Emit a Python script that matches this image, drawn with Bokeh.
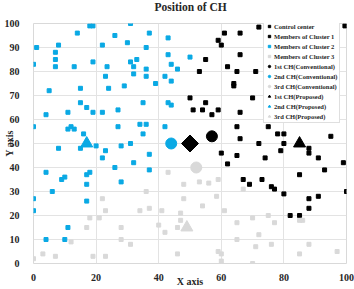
import math

from bokeh.embed import file_html
from bokeh.models import FixedTicker, Title
from bokeh.plotting import figure
from bokeh.resources import INLINE

SERIF = "Liberation Serif"
BLUE = "#0aa9e4"
GREY = "#d9d9d9"
BLACK = "#000000"
TEXT = "#262626"

# Members of each cluster
cluster1_x = [61, 66, 72, 59, 60, 55, 66, 62, 53, 65, 71, 64, 64, 50, 55, 70, 51, 54, 59, 57,
              66, 65, 75, 66, 78, 80, 72, 80, 95, 99.5, 90, 60, 65, 62, 74, 79, 88, 88, 91, 99,
              93, 85, 67, 69, 73, 76, 77, 80, 100, 91, 88, 88, 82, 85]
cluster1_y = [96, 96, 98.5, 93, 91, 85, 87, 82, 80, 80, 80, 75, 74, 69, 67, 69, 64, 64, 64, 62,
              63, 57, 57, 52, 54, 54, 50, 50, 53, 99, 100, 46, 45, 41.5, 44, 47, 48, 46, 44, 42,
              39, 37, 35, 33, 35, 32, 31, 29, 30, 28, 27, 23, 20, 20]

cluster2_x = [0, 1, 8, 7, 7, 7, 5, 4, 0, 14, 18, 19, 13, 15, 15, 17, 11, 19, 22, 11,
              12, 13, 16, 15, 8, 20, 23, 19, 22, 23.5, 23, 24, 26, 29, 27, 27, 28, 31, 30, 31,
              31, 32, 33, 32, 36, 36, 36, 37, 35, 34, 36, 35, 39, 42, 43, 43, 44, 44, 46, 43,
              44, 42, 50, 22, 26, 32, 37, 37, 28, 4, 9, 10, 6, 0, 0, 17, 18, 17, 17, 11,
              4, 10]
cluster2_y = [83, 90, 91, 88, 85, 82, 72, 62, 57, 96, 99, 99, 82, 73, 67, 65, 63, 63, 63, 56,
              57, 56, 54, 48, 48, 49, 47, 84, 91, 82, 78, 73, 95, 74, 64, 57, 49, 50, 92, 100,
              84, 82, 85, 79, 81, 78, 90, 96, 67, 58, 58, 54, 75, 78, 94, 87, 83, 76, 81, 67,
              66, 57, 86, 44, 40, 42, 45.5, 39, 34, 38, 35, 36, 30, 27, 22, 37, 38, 33, 26, 15,
              10, 10]

cluster3_x = [0, 3, 7, 12, 19, 23, 18, 17, 21, 22, 23, 28, 28, 31, 34, 36, 37, 41, 40, 42,
              43, 46, 46, 47, 47, 48, 53, 56, 59, 67, 48, 58.5, 54, 61, 70, 65, 75, 77, 85, 86,
              72, 65, 71, 76, 88, 97, 85, 59, 60, 60, 70]
cluster3_y = [2, 4, 3, 9, 3, 3, 19, 15, 19, 27, 22, 15, 10, 8, 22, 30, 23, 22, 16, 13,
              38, 15, 4, 21, 18, 33, 34, 33.5, 35, 31, 27, 28, 24, 22, 19, 17, 20, 17, 18, 18,
              12, 10, 7, 8, 8, 5, 4, 5, 4, 1, 0]

# Control center and cluster heads
center_x, center_y = [50], [50]
ch_conv_x = [57, 44, 52]
ch_conv_y = [53, 50, 40]
ch_prop_x = [85, 17, 49]
ch_prop_y = [50, 50, 15]
ch_colors = [BLACK, BLUE, GREY]
ch_ranks = ["1st", "2nd", "3rd"]

x_ticks = [0, 20, 40, 60, 80, 100]
y_ticks = [0, 10, 20, 30, 40, 50, 60, 70, 80, 90, 100]

p = figure(width=354, height=289, x_range=(0, 100), y_range=(0, 100),
           output_backend="svg", toolbar_location=None,
           min_border_left=32, min_border_right=8, min_border_top=22, min_border_bottom=25,
           background_fill_color="white", border_fill_color="white")
p.outline_line_color = "#d9d9d9"

# Title sits in the top band; a thin empty band keeps it clear of the frame
p.title = None
p.add_layout(Title(text=" ", text_font_size="1px", standoff=6), "above")
p.add_layout(Title(text="Position of CH", align="left", vertical_align="top", offset=121,
                   standoff=0, text_font=SERIF, text_font_style="bold",
                   text_font_size="11.5px", text_color=TEXT), "above")

for ax in (p.xaxis[0], p.yaxis[0]):
    ax.axis_line_color = None
    ax.major_tick_line_color = None
    ax.minor_tick_line_color = None
    ax.major_label_text_font = SERIF
    ax.major_label_text_font_style = "bold"
    ax.major_label_text_font_size = "10px"
    ax.major_label_text_color = TEXT
    ax.axis_label_text_font = SERIF
    ax.axis_label_text_font_style = "bold"
    ax.axis_label_text_font_size = "10px"
    ax.axis_label_text_color = TEXT
p.xaxis.axis_label = "X axis"
p.yaxis.axis_label = "Y axis"
p.xaxis.ticker = FixedTicker(ticks=x_ticks)
p.yaxis.ticker = FixedTicker(ticks=y_ticks)
p.xaxis.major_label_standoff = 4
p.xaxis.axis_label_standoff = -8
p.yaxis.major_label_standoff = 8
p.yaxis.axis_label_standoff = -13
p.xgrid.ticker = FixedTicker(ticks=x_ticks)
p.ygrid.ticker = FixedTicker(ticks=y_ticks)
p.grid.grid_line_color = "#e3e3e3"

p.scatter(center_x, center_y, marker="square", angle=math.pi / 4, size=12,
          color=BLACK, legend_label="Control center")
p.scatter(cluster1_x, cluster1_y, marker="square", size=4, color=BLACK,
          legend_label="Members of Cluster 1")
p.scatter(cluster2_x, cluster2_y, marker="square", size=4, color=BLUE,
          legend_label="Members of Cluster 2")
p.scatter(cluster3_x, cluster3_y, marker="square", size=4, color=GREY,
          legend_label="Members of Cluster 3")
for i in range(3):
    p.scatter([ch_conv_x[i]], [ch_conv_y[i]], marker="circle", size=11, color=ch_colors[i],
              legend_label=f"{ch_ranks[i]} CH(Conventional)")
for i in range(3):
    p.scatter([ch_prop_x[i]], [ch_prop_y[i]], marker="triangle", size=12, color=ch_colors[i],
              legend_label=f"{ch_ranks[i]} CH(Proposed)")

lg = p.legend[0]
lg.location = (230, 140)
lg.margin = 0
lg.padding = 2
lg.spacing = 2
lg.glyph_width = 6
lg.glyph_height = 8
lg.label_height = 8
lg.label_standoff = 2
lg.label_text_font = SERIF
lg.label_text_font_style = "bold"
lg.label_text_font_size = "6.5px"
lg.label_text_color = TEXT
lg.border_line_color = "#bfbfbf"
lg.background_fill_alpha = 1.0

open("out.html", "w").write(file_html(p, INLINE))
